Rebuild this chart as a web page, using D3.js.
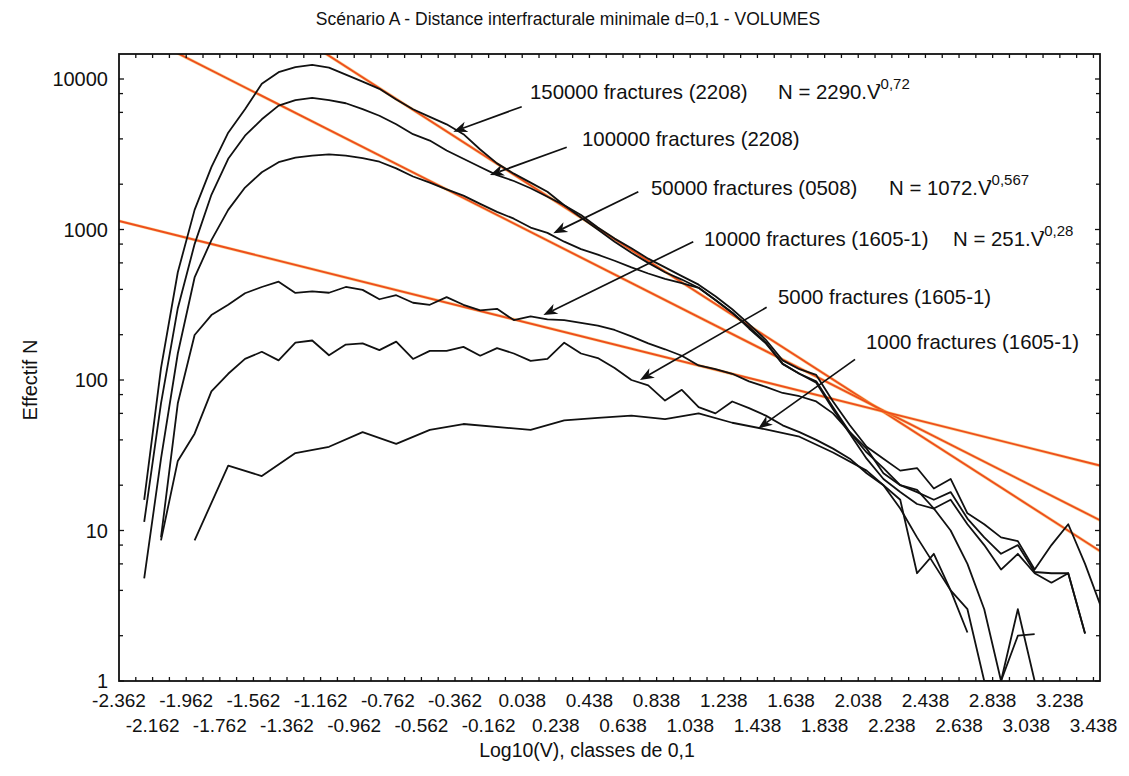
<!DOCTYPE html>
<html><head><meta charset="utf-8">
<script src="https://cdn.jsdelivr.net/npm/d3@7"></script>
<style>
body{margin:0;background:#fff}
text{font-family:"Liberation Sans",Arial,Helvetica,sans-serif;fill:#111}
</style>
</head><body>
<svg id="c" width="1129" height="776"></svg>
<script>
// ---------- DATA ----------
// class centres of log10(V) (classes of 0.1), index k -> -2.312 + 0.1k
const classFirst = -2.312, classStep = 0.1;
const row1Labels = ["-2.362","-1.962","-1.562","-1.162","-0.762","-0.362","0.038","0.438","0.838","1.238","1.638","2.038","2.438","2.838","3.238"];
const row2Labels = ["-2.162","-1.762","-1.362","-0.962","-0.562","-0.162","0.238","0.638","1.038","1.438","1.838","2.238","2.638","3.038","3.438"];
const yTickLabels = [1, 10, 100, 1000, 10000];

// counts per class (start = first class index)
const n150000 = {start:1, values:[16,120,520,1350,2600,4400,6300,9300,11100,12000,12400,11900,10700,9600,8600,7300,6300,5600,5000,4300,3400,2750,2350,2050,1780,1450,1250,1030,870,750,640,560,490,430,360,295,235,185,135,118,108,72,50,36,30,25,26,19,22,13,11,9,8.5,5.5,8,11,6,3]};
const n100000 = {start:1, values:[11.4,70,300,800,1700,2950,4200,5400,6650,7250,7480,7250,6900,6300,5700,5000,4300,3900,3350,2950,2600,2300,2100,1880,1650,1450,1200,1000,830,700,600,520,465,410,340,280,225,178,128,110,98,66,45,33,26,20,18,16,18,12,9,7,8,5.3,5.2,5.2,2.07]};
const n50000 = {start:1, values:[4.8,30,150,480,850,1350,1900,2400,2800,3000,3100,3160,3100,2980,2820,2550,2250,2050,1850,1680,1480,1310,1180,1030,950,830,740,680,620,560,510,470,440,410,340,280,220,175,128,110,96,64,44,30,22,18,15,14,16,11,8,5.5,7,5.2,4.5,5.2,2.07]};
const n10000 = {start:2, values:[9,70,199,270,316,377,415,450,379,388,380,415,397,344,366,326,316,355,316,290,297,250,265,253,250,240,230,215,195,175,160,145,125,118,110,98,90,82,78,72,60,45,35,24,20,18.6,14,10,6,3,1,2,2.05]};
const n5000 = {start:2, values:[8.6,29,44,84,110,138,154,135,177,183,146,172,175,158,180,138,156,156,166,145,163,150,134,138,177,150,140,120,100,92,73,86,66,60,72,65,58,50,45,40,35,30,24,20,14,9,6,4,3,1,1,3,1]};
// 1000 fractures: only some classes present (null = no point)
const n1000 = {start:4, values:[8.6,null,27,null,23,null,32.7,null,36,null,45,null,37.6,null,46.6,null,51,null,null,null,46.6,null,54,null,56,null,58,null,55,null,60,null,52,null,47,null,42,null,33,null,25,null,16,5.2,7,4,2.1]};

const seriesList = [n150000, n100000, n50000, n10000, n5000, n1000];

// fitted power laws (end points) [log10 V, N]
const fitSteep   = [[-1.2, 16500], [3.477, 7.3]];   // N = 2290.V^-0,72
const fitMiddle  = [[-2.1, 16600], [3.477, 11.7]];  // N = 1072.V^-0,567
const fitShallow = [[-2.362, 1140], [3.477, 27]];   // N = 251.V^-0,28
const fits = [fitSteep, fitMiddle, fitShallow];

// annotations: label, text anchor position (px), arrow tail & head in data units
const notes = [
  {label:"150000 fractures (2208)", tx:530, ty:99,  tail:[0.035,6545], head:[-0.372,4467]},
  {label:"100000 fractures (2208)", tx:582, ty:146, tail:[0.303,3516], head:[-0.154,2301]},
  {label:"50000 fractures (0508)",  tx:651, ty:195, tail:[0.729,1783], head:[0.223,944]},
  {label:"10000 fractures (1605-1)",tx:704, ty:246, tail:[1.056,830],  head:[0.164,270]},
  {label:"5000 fractures (1605-1)", tx:778, ty:304, tail:[1.493,304],  head:[0.739,100]},
  {label:"1000 fractures (1605-1)", tx:866, ty:349, tail:[2.019,137],  head:[1.443,47.7]}
];
const eqs = [
  {base:"N = 2290.V", exp:"-0,72",  tx:778, ty:99},
  {base:"N = 1072.V", exp:"-0,567", tx:889, ty:195},
  {base:"N = 251.V",  exp:"-0,28",  tx:953, ty:246}
];

// ---------- CHART ----------
const svg = d3.select("#c");
const L = 119, R = 1100, T = 54, B = 681;
const x = d3.scaleLinear().domain([-2.362, 3.477]).range([L, R]);
const y = d3.scaleLog().domain([1, 14660]).range([B, T]);

svg.append("defs").append("clipPath").attr("id","pc")
  .append("rect").attr("x",L).attr("y",T).attr("width",R-L).attr("height",B-T);

// title
svg.append("text").attr("x",568).attr("y",25).attr("text-anchor","middle")
  .style("font-size","17.5px").text("Scénario A - Distance interfracturale minimale d=0,1 - VOLUMES");

// fit lines
const line = d3.line().x(d=>x(d[0])).y(d=>y(d[1]));
const gPlot = svg.append("g").attr("clip-path","url(#pc)");
fits.forEach(f=>{
  gPlot.append("path").attr("d",line(f)).attr("fill","none")
    .attr("stroke","#f6b03a").attr("stroke-width",3.2).attr("opacity",0.5);
  gPlot.append("path").attr("d",line(f)).attr("fill","none")
    .attr("stroke","#ee4e1c").attr("stroke-width",1.9);
});

// data lines
seriesList.forEach(s=>{
  const pts = s.values.map((v,i)=>[classFirst + classStep*(s.start+i), v]).filter(p=>p[1]!==null);
  gPlot.append("path").attr("d",line(pts)).attr("fill","none")
    .attr("stroke","#111").attr("stroke-width",1.8).attr("stroke-linejoin","round");
});

// frame
svg.append("rect").attr("x",L).attr("y",T).attr("width",R-L).attr("height",B-T)
  .attr("fill","none").attr("stroke","#111").attr("stroke-width",1.8);

// x ticks (class boundaries) top & bottom, inward
const xt = d3.range(1,59).map(i=>-2.362+0.1*i);
svg.append("g").selectAll("line").data(xt).join("line")
  .attr("x1",d=>x(d)).attr("x2",d=>x(d)).attr("y1",B).attr("y2",B-4)
  .attr("stroke","#111").attr("stroke-width",1.3);
svg.append("g").selectAll("line").data(xt).join("line")
  .attr("x1",d=>x(d)).attr("x2",d=>x(d)).attr("y1",T).attr("y2",T+4)
  .attr("stroke","#111").attr("stroke-width",1.3);

// y ticks (log minor) left & right, inward
const yt = [];
[1,10,100,1000].forEach(dec=>[1,2,4,6,8].forEach(m=>yt.push(dec*m)));
yt.push(10000);
[L,R].forEach((px,j)=>{
  const dir = j===0 ? 1 : -1;
  svg.append("g").selectAll("line").data(yt).join("line")
    .attr("x1",px).attr("x2",d=>px+dir*(yTickLabels.includes(d)?5:4))
    .attr("y1",d=>y(d)).attr("y2",d=>y(d))
    .attr("stroke","#111").attr("stroke-width",1.3);
});

// y labels
svg.append("g").selectAll("text").data(yTickLabels).join("text")
  .attr("x",L-11).attr("y",d=>y(d)).attr("dy","0.36em").attr("text-anchor","end")
  .style("font-size","20px").text(d=>d);

// x labels, two rows
svg.append("g").selectAll("text").data(row1Labels).join("text")
  .attr("x",d=>x(+d)).attr("y",707).attr("text-anchor","middle")
  .style("font-size","19px").text(d=>d);
svg.append("g").selectAll("text").data(row2Labels).join("text")
  .attr("x",d=>x(+d)).attr("y",732).attr("text-anchor","middle")
  .style("font-size","19px").text(d=>d);

// axis titles
svg.append("text").attr("x",587).attr("y",757).attr("text-anchor","middle")
  .style("font-size","19.5px").text("Log10(V), classes de 0,1");
svg.append("text").attr("transform","translate(37,380) rotate(-90)").attr("text-anchor","middle")
  .style("font-size","20px").text("Effectif N");

// annotations
notes.forEach(n=>{
  svg.append("text").attr("x",n.tx).attr("y",n.ty).style("font-size","20.4px").text(n.label);
  const x1=x(n.tail[0]), y1=y(n.tail[1]), x2=x(n.head[0]), y2=y(n.head[1]);
  const a=Math.atan2(y2-y1,x2-x1), len=14, w=5.5;
  const bx=x2-len*Math.cos(a), by=y2-len*Math.sin(a);
  svg.append("line").attr("x1",x1).attr("y1",y1).attr("x2",bx+4*Math.cos(a)).attr("y2",by+4*Math.sin(a))
    .attr("stroke","#111").attr("stroke-width",1.7);
  const nx=-Math.sin(a), ny=Math.cos(a);
  const nxp=x2-(len-4)*Math.cos(a), nyp=y2-(len-4)*Math.sin(a);
  svg.append("path").attr("d",`M${x2},${y2}L${bx+w*nx},${by+w*ny}L${nxp},${nyp}L${bx-w*nx},${by-w*ny}Z`)
    .attr("fill","#111");
});
eqs.forEach(e=>{
  const t = svg.append("text").attr("x",e.tx).attr("y",e.ty).style("font-size","20.4px");
  t.append("tspan").text(e.base);
  t.append("tspan").attr("dx",-5).attr("dy",-10).style("font-size","15px").text(e.exp);
});
</script>
</body></html>
